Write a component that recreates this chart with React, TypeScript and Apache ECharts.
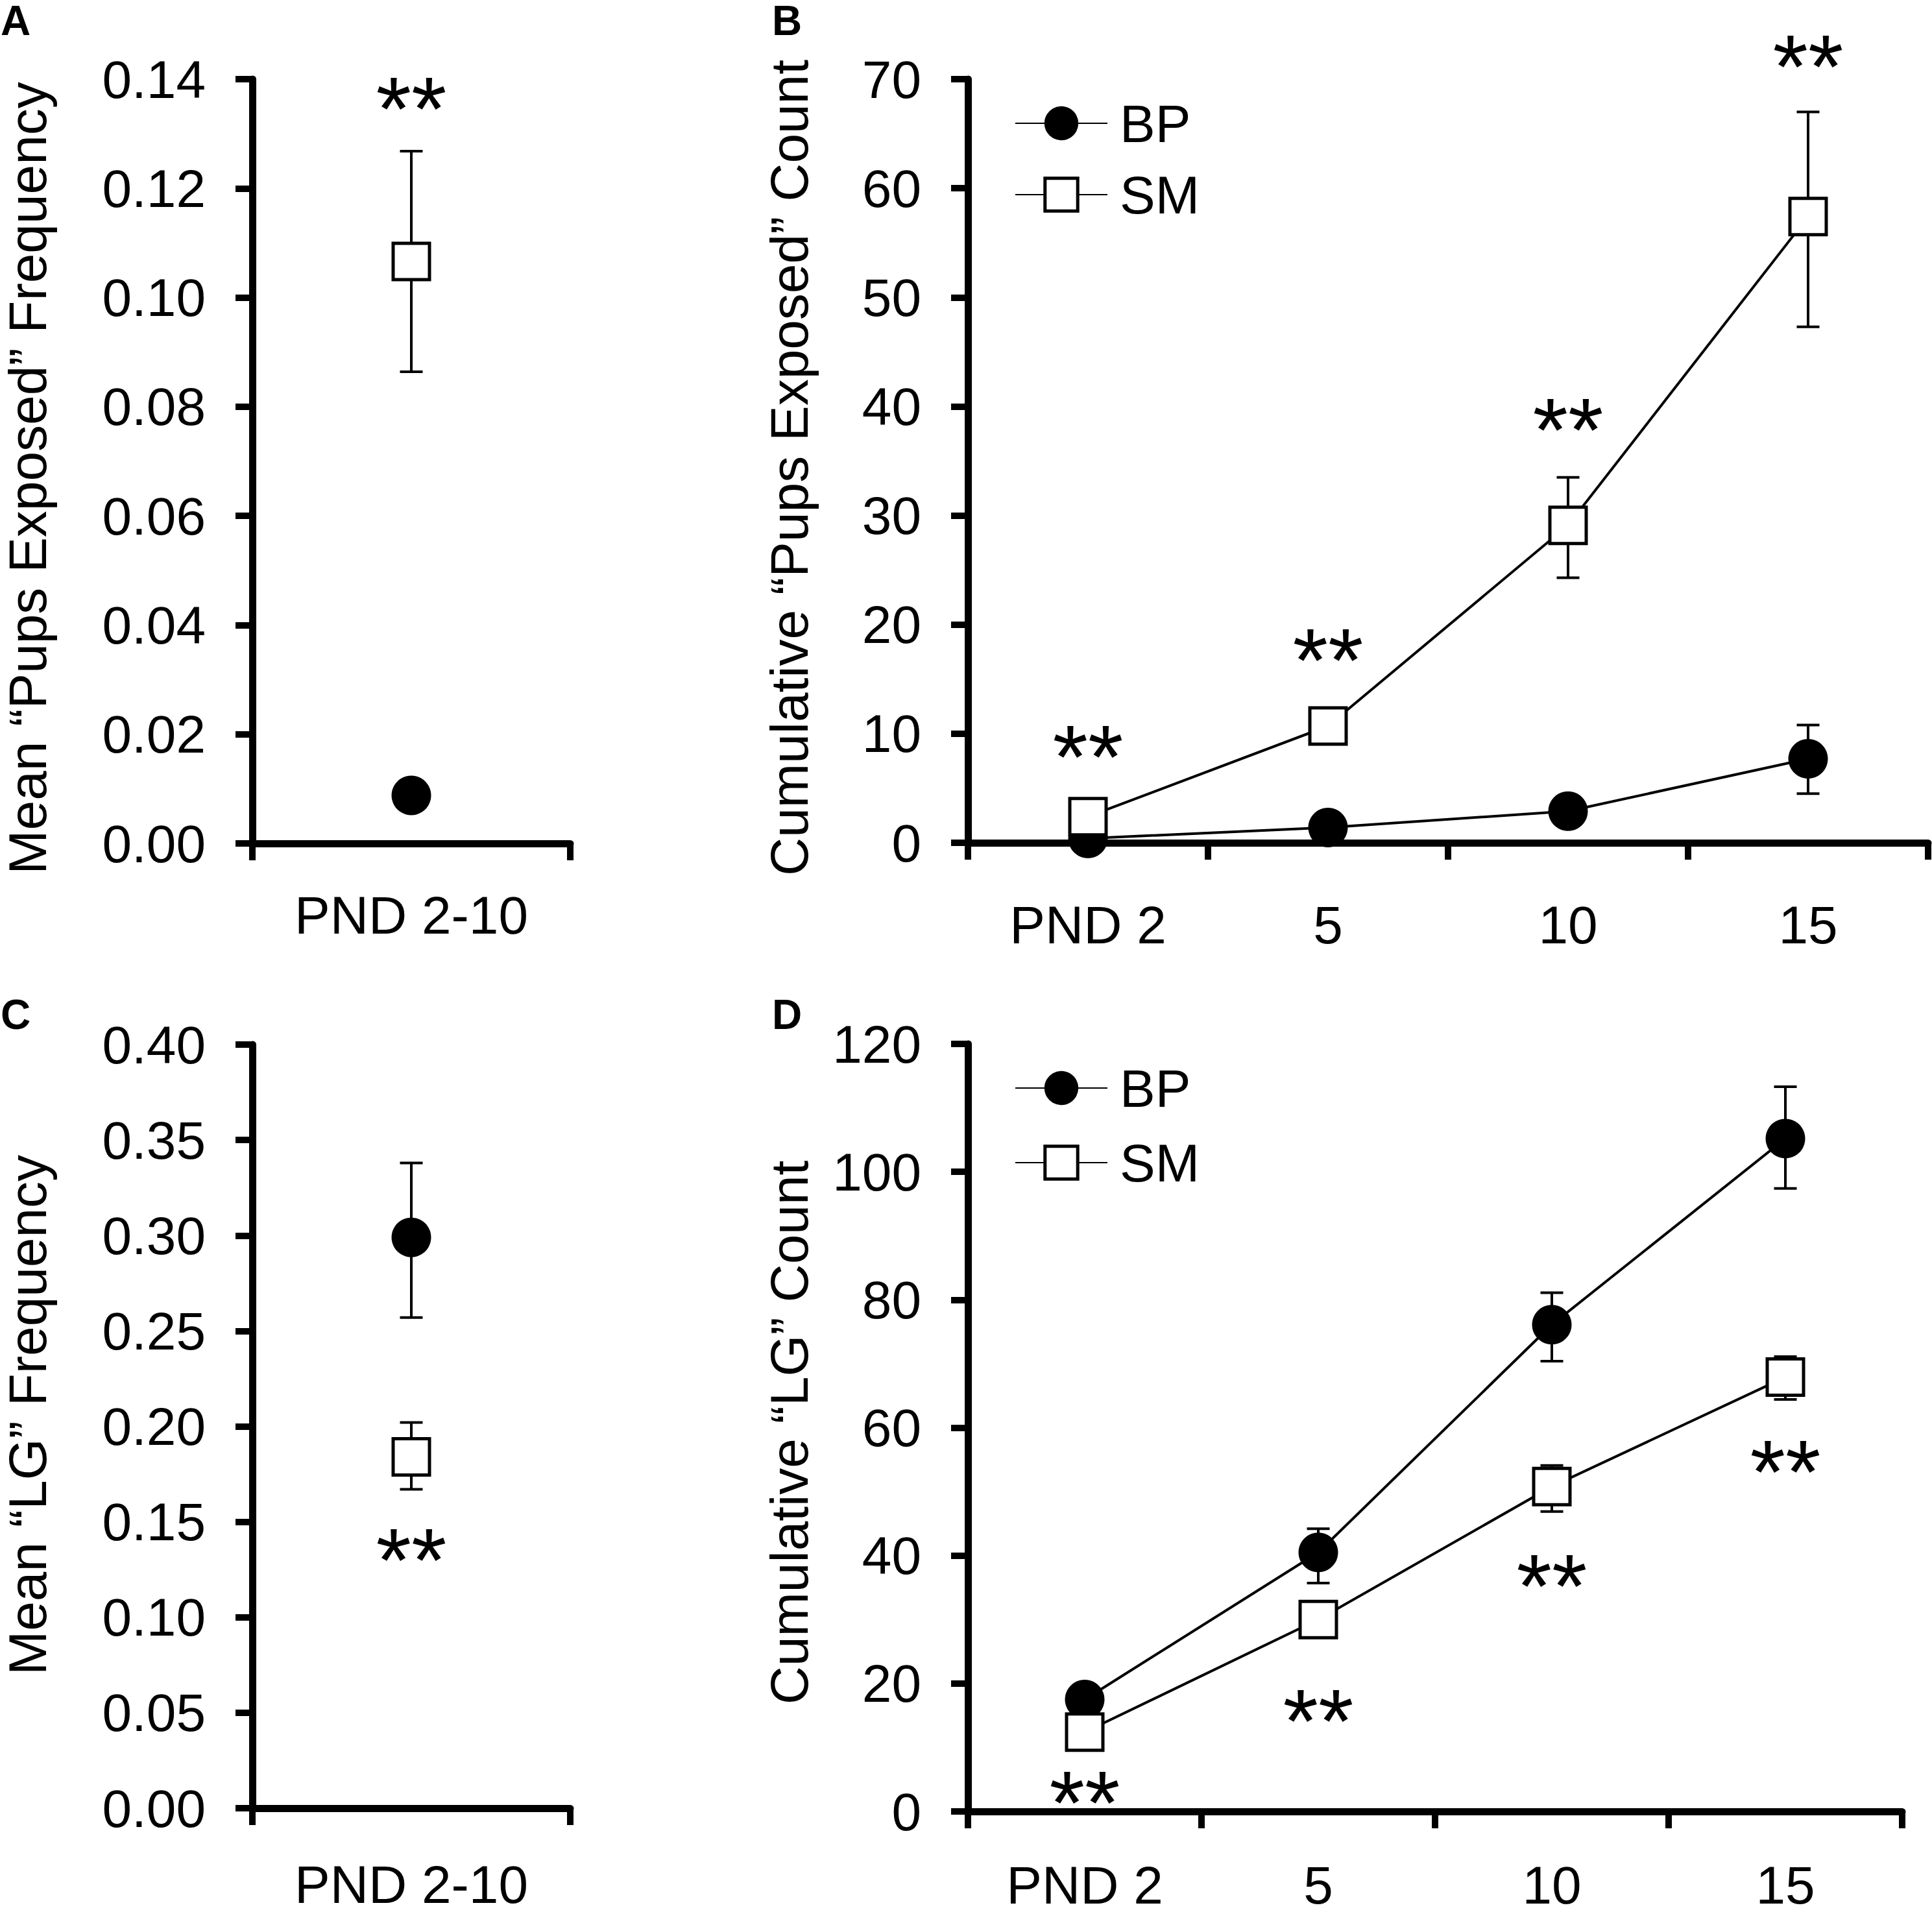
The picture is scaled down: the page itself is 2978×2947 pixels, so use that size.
import React, { useEffect, useRef } from "react";
import * as echarts from "echarts";

const FONT = "'Liberation Sans', Arial, Helvetica, sans-serif";

// ---------- Panel A ----------
const catsA = ["PND 2-10"];
const ticksA = [0, 0.02, 0.04, 0.06, 0.08, 0.1, 0.12, 0.14];
const bpA = [0.0088];
const smA = [0.1066];
const bpErrA: (number[] | null)[] = [null];
const smErrA: (number[] | null)[] = [[0.0864, 0.1268]];
const starsA = [0.1373];

// ---------- Panel B ----------
const catsB = ["PND 2", "5", "10", "15"];
const ticksB = [0, 10, 20, 30, 40, 50, 60, 70];
const bpB = [0.4, 1.4, 2.9, 7.7];
const smB = [2.4, 10.7, 29.1, 57.4];
const bpErrB: (number[] | null)[] = [null, null, null, [4.5, 10.8]];
const smErrB: (number[] | null)[] = [null, null, [24.3, 33.5], [47.3, 67.0]];
const starsB = [9.2, 18.1, 39.2, 72.5];

// ---------- Panel C ----------
const catsC = ["PND 2-10"];
const ticksC = [0, 0.05, 0.1, 0.15, 0.2, 0.25, 0.3, 0.35, 0.4];
const bpC = [0.299];
const smC = [0.184];
const bpErrC: (number[] | null)[] = [[0.257, 0.338]];
const smErrC: (number[] | null)[] = [[0.167, 0.202]];
const starsC = [0.1375];

// ---------- Panel D ----------
const catsD = ["PND 2", "5", "10", "15"];
const ticksD = [0, 20, 40, 60, 80, 100, 120];
const bpD = [17.5, 40.5, 76.1, 105.2];
const smD = [12.4, 30.0, 50.8, 67.9];
const bpErrD: (number[] | null)[] = [null, [35.7, 44.2], [70.4, 81.1], [97.4, 113.3]];
const smErrD: (number[] | null)[] = [null, null, [46.9, 54.1], [64.4, 71.1]];
const starsD = [3.65, 16.4, 37.5, 55.4];

const titles = [
  "Mean \u201CPups Exposed\u201D Frequency",
  "Cumulative \u201CPups Exposed\u201D Count",
  "Mean \u201CLG\u201D Frequency",
  "Cumulative \u201CLG\u201D Count",
];
const letters = ["A", "B", "C", "D"];
const legendNames = ["BP", "SM"];

const panels = [
  {
    grid: { left: 389, top: 122, width: 490, height: 1178 },
    cats: catsA, ticks: ticksA, dec: 2, bp: bpA, sm: smA, bpErr: bpErrA, smErr: smErrA, stars: starsA,
    xMargin: 69, titlePos: [42, 737], letterPos: [1, 0],
  },
  {
    grid: { left: 1492, top: 122, width: 1480, height: 1177 },
    cats: catsB, ticks: ticksB, dec: 0, bp: bpB, sm: smB, bpErr: bpErrB, smErr: smErrB, stars: starsB,
    xMargin: 85, titlePos: [1216, 721], letterPos: [1190, 0],
  },
  {
    grid: { left: 389, top: 1610, width: 490, height: 1177 },
    cats: catsC, ticks: ticksC, dec: 2, bp: bpC, sm: smC, bpErr: bpErrC, smErr: smErrC, stars: starsC,
    xMargin: 76, titlePos: [42, 2181], letterPos: [1, 1532],
  },
  {
    grid: { left: 1492, top: 1609, width: 1440, height: 1183 },
    cats: catsD, ticks: ticksD, dec: 0, bp: bpD, sm: smD, bpErr: bpErrD, smErr: smErrD, stars: starsD,
    xMargin: 72, titlePos: [1216, 2208], letterPos: [1190, 1532],
  },
];

const AXIS_W = 11;
const TICK_W = 10;
const TICK_L = 26;
const STAR_SIZE = 140;

function errData(errs: (number[] | null)[]) {
  const out: number[][] = [];
  errs.forEach((e, i) => {
    if (e) out.push([i, e[0], e[1]]);
  });
  return out;
}

function errorRender(params: any, api: any) {
  const x = api.value(0);
  const lo = api.coord([x, api.value(1)]);
  const hi = api.coord([x, api.value(2)]);
  const hw = 17.5;
  const st = { stroke: "#000", lineWidth: 4 };
  return {
    type: "group",
    children: [
      { type: "line", shape: { x1: lo[0], y1: lo[1], x2: hi[0], y2: hi[1] }, style: st },
      { type: "line", shape: { x1: lo[0] - hw, y1: lo[1], x2: lo[0] + hw, y2: lo[1] }, style: st },
      { type: "line", shape: { x1: hi[0] - hw, y1: hi[1], x2: hi[0] + hw, y2: hi[1] }, style: st },
    ],
  };
}

function starRender(params: any, api: any) {
  const p = api.coord([api.value(0), api.value(1)]);
  return {
    type: "text",
    x: p[0],
    y: p[1] + STAR_SIZE * 0.16,
    style: {
      text: "**",
      fill: "#000",
      fontSize: STAR_SIZE,
      fontFamily: FONT,
      align: "center",
      verticalAlign: "middle",
      textAlign: "center",
      textVerticalAlign: "middle",
    },
  };
}

function buildOption() {
  const grid: any[] = [];
  const xAxis: any[] = [];
  const yAxis: any[] = [];
  const series: any[] = [];
  const graphic: any[] = [];

  panels.forEach((p, i) => {
    grid.push({ ...p.grid, containLabel: false });
    xAxis.push({
      type: "category",
      gridIndex: i,
      data: p.cats,
      boundaryGap: true,
      axisLine: { show: true, lineStyle: { color: "#000", width: AXIS_W } },
      axisTick: { show: true, interval: 0, length: TICK_L, lineStyle: { color: "#000", width: TICK_W } },
      axisLabel: { interval: 0, margin: p.xMargin, color: "#000", fontSize: 82, fontFamily: FONT },
      splitLine: { show: false },
    });
    const last = p.ticks[p.ticks.length - 1];
    yAxis.push({
      type: "value",
      gridIndex: i,
      min: p.ticks[0],
      max: last,
      interval: p.ticks[1] - p.ticks[0],
      axisLine: { show: true, lineStyle: { color: "#000", width: AXIS_W } },
      axisTick: { show: true, length: TICK_L, lineStyle: { color: "#000", width: TICK_W } },
      axisLabel: {
        margin: 72,
        color: "#000",
        fontSize: 82,
        fontFamily: FONT,
        formatter: (v: number) => v.toFixed(p.dec),
      },
      splitLine: { show: false },
    });

    series.push({
      type: "custom",
      xAxisIndex: i,
      yAxisIndex: i,
      renderItem: errorRender,
      data: errData(p.bpErr),
      encode: { x: 0, y: [1, 2] },
      z: 1,
      silent: true,
    });
    series.push({
      type: "custom",
      xAxisIndex: i,
      yAxisIndex: i,
      renderItem: errorRender,
      data: errData(p.smErr),
      encode: { x: 0, y: [1, 2] },
      z: 1,
      silent: true,
    });
    series.push({
      name: legendNames[0],
      type: "line",
      xAxisIndex: i,
      yAxisIndex: i,
      data: p.bp,
      symbol: "circle",
      symbolSize: 61,
      clip: false,
      itemStyle: { color: "#000", borderWidth: 0 },
      lineStyle: { color: "#000", width: 4 },
      z: 3,
      silent: true,
    });
    series.push({
      name: legendNames[1],
      type: "line",
      xAxisIndex: i,
      yAxisIndex: i,
      data: p.sm,
      symbol: "rect",
      symbolSize: 56,
      clip: false,
      itemStyle: { color: "#fff", borderColor: "#000", borderWidth: 5 },
      lineStyle: { color: "#000", width: 4 },
      z: 4,
      silent: true,
    });
    series.push({
      type: "custom",
      xAxisIndex: i,
      yAxisIndex: i,
      renderItem: starRender,
      data: p.stars.map((v, idx) => [idx, v]),
      encode: { x: 0, y: 1 },
      clip: false,
      z: 5,
      silent: true,
    });

    graphic.push({
      type: "text",
      x: p.titlePos[0],
      y: p.titlePos[1],
      rotation: Math.PI / 2,
      style: {
        text: titles[i],
        fill: "#000",
        fontSize: 82,
        fontFamily: FONT,
        textAlign: "center",
        textVerticalAlign: "middle",
      },
    });
    graphic.push({
      type: "text",
      x: p.letterPos[0],
      y: p.letterPos[1],
      style: {
        text: letters[i],
        fill: "#000",
        fontSize: 64,
        fontWeight: "bold",
        fontFamily: FONT,
        textAlign: "left",
        textVerticalAlign: "top",
      },
    });
  });

  const legendBase = {
    orient: "vertical",
    left: 1564,
    padding: 0,
    itemWidth: 142,
    itemHeight: 63,
    selectedMode: false,
    data: [
      { name: legendNames[0], itemStyle: { borderWidth: 2, borderColor: "#000", color: "#000" } },
      { name: legendNames[1], itemStyle: { borderWidth: 5, borderColor: "#000", color: "#fff" } },
    ],
    textStyle: { fontSize: 82, color: "#000", fontFamily: FONT, padding: [0, 0, 0, 14] },
  };

  return {
    animation: false,
    backgroundColor: "#fff",
    textStyle: { fontFamily: FONT },
    grid,
    xAxis,
    yAxis,
    series,
    graphic,
    legend: [
      { ...legendBase, top: 149, itemGap: 28 },
      { ...legendBase, top: 1636, itemGap: 33 },
    ],
  };
}

export default function App() {
  const ref = useRef<HTMLDivElement>(null);
  useEffect(() => {
    if (!ref.current) return;
    const chart = echarts.init(ref.current, undefined, { renderer: "svg", width: 2978, height: 2947 });
    chart.setOption(buildOption() as any);
    return () => chart.dispose();
  }, []);
  return (
    <div
      ref={ref}
      style={{ position: "absolute", left: 0, top: 0, width: 2978, height: 2947, background: "#fff" }}
    />
  );
}
